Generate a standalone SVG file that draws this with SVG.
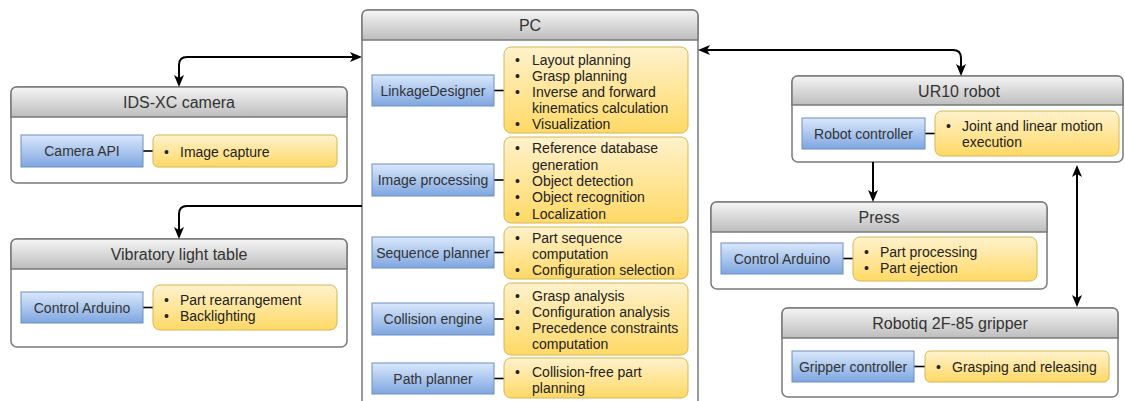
<svg xmlns="http://www.w3.org/2000/svg" width="1125" height="401" viewBox="0 0 1125 401">
<defs>
<linearGradient id="gHead" x1="0" y1="0" x2="0" y2="1"><stop offset="0" stop-color="#f5f5f5"/><stop offset="1" stop-color="#bdbdbd"/></linearGradient>
<linearGradient id="gBlue" x1="0" y1="0" x2="0" y2="1"><stop offset="0" stop-color="#dae8fc"/><stop offset="1" stop-color="#7ea6e0"/></linearGradient>
<linearGradient id="gYel" x1="0" y1="0" x2="0" y2="1"><stop offset="0" stop-color="#fff2cc"/><stop offset="1" stop-color="#ffd966"/></linearGradient>
<marker id="arr" viewBox="0 0 12 10" markerWidth="12" markerHeight="10" refX="9" refY="5" orient="auto-start-reverse" markerUnits="userSpaceOnUse"><path d="M0,0 L12,5 L0,10 L3,5 Z" fill="#000"/></marker>
<style>
.box{fill:#fff;stroke:#7a7a7a;stroke-width:1.5}
.head{fill:url(#gHead);stroke:#7a7a7a;stroke-width:1.5}
.blue{fill:url(#gBlue);stroke:#6c8ebf;stroke-width:1}
.yel{fill:url(#gYel);stroke:#d6b656;stroke-width:1}
.lnk{stroke:#000;stroke-width:1.6}
.ttl{font-family:"Liberation Sans",Arial,sans-serif;font-size:16px;fill:#333;text-anchor:middle}
.lbl{font-family:"Liberation Sans",Arial,sans-serif;font-size:14px;fill:#333;text-anchor:middle}
.txt{font-family:"Liberation Sans",Arial,sans-serif;font-size:14px;fill:#222}
.con{fill:none;stroke:#000;stroke-width:2}
</style>
</defs>

<g id="pc">
<rect class="box" x="362" y="10" width="336" height="400" rx="6"/>
<path class="head" d="M362,40 V16 Q362,10 368,10 H692 Q698,10 698,16 V40 Z"/>
<text class="ttl" x="530" y="31">PC</text>
<line class="lnk" x1="494" y1="90.5" x2="504" y2="90.5"/>
<line class="lnk" x1="494" y1="180" x2="504" y2="180"/>
<line class="lnk" x1="494" y1="252.5" x2="504" y2="252.5"/>
<line class="lnk" x1="494" y1="319" x2="504" y2="319"/>
<line class="lnk" x1="494" y1="378.5" x2="504" y2="378.5"/>
<rect class="blue" x="372" y="75" width="122" height="31"/>
<text class="lbl" x="433" y="95.5">LinkageDesigner</text>
<rect class="yel" x="504" y="47" width="184" height="86" rx="7"/>
<text class="txt"><tspan x="515" y="64.5">•</tspan><tspan x="532" y="64.5">Layout planning</tspan><tspan x="515" y="81">•</tspan><tspan x="532" y="81">Grasp planning</tspan><tspan x="515" y="97">•</tspan><tspan x="532" y="97">Inverse and forward</tspan><tspan x="532" y="113">kinematics calculation</tspan><tspan x="515" y="129">•</tspan><tspan x="532" y="129">Visualization</tspan></text>
<rect class="blue" x="372" y="164" width="122" height="32"/>
<text class="lbl" x="433" y="185">Image processing</text>
<rect class="yel" x="504" y="137" width="184" height="86" rx="7"/>
<text class="txt"><tspan x="515" y="153">•</tspan><tspan x="532" y="153">Reference database</tspan><tspan x="532" y="170">generation</tspan><tspan x="515" y="186">•</tspan><tspan x="532" y="186">Object detection</tspan><tspan x="515" y="202">•</tspan><tspan x="532" y="202">Object recognition</tspan><tspan x="515" y="219">•</tspan><tspan x="532" y="219">Localization</tspan></text>
<rect class="blue" x="372" y="237" width="122" height="31"/>
<text class="lbl" x="433" y="257.5">Sequence planner</text>
<rect class="yel" x="504" y="227" width="184" height="52" rx="7"/>
<text class="txt"><tspan x="515" y="243">•</tspan><tspan x="532" y="243">Part sequence</tspan><tspan x="532" y="259">computation</tspan><tspan x="515" y="275">•</tspan><tspan x="532" y="275">Configuration selection</tspan></text>
<rect class="blue" x="372" y="303" width="122" height="32"/>
<text class="lbl" x="433" y="324">Collision engine</text>
<rect class="yel" x="504" y="283" width="184" height="72" rx="7"/>
<text class="txt"><tspan x="515" y="301">•</tspan><tspan x="532" y="301">Grasp analysis</tspan><tspan x="515" y="317">•</tspan><tspan x="532" y="317">Configuration analysis</tspan><tspan x="515" y="333">•</tspan><tspan x="532" y="333">Precedence constraints</tspan><tspan x="532" y="349">computation</tspan></text>
<rect class="blue" x="372" y="363" width="122" height="31"/>
<text class="lbl" x="433" y="383.5">Path planner</text>
<rect class="yel" x="504" y="358" width="184" height="40" rx="7"/>
<text class="txt"><tspan x="515" y="377">•</tspan><tspan x="532" y="377">Collision-free part</tspan><tspan x="532" y="393">planning</tspan></text>
</g>

<g id="camera">
<rect class="box" x="11" y="87" width="336" height="96" rx="6"/>
<path class="head" d="M11,117 V93 Q11,87 17,87 H341 Q347,87 347,93 V117 Z"/>
<text class="ttl" x="179" y="108">IDS-XC camera</text>
<line class="lnk" x1="143" y1="151" x2="153" y2="151"/>
<rect class="blue" x="21" y="135" width="122" height="32"/>
<text class="lbl" x="82" y="156">Camera API</text>
<rect class="yel" x="153" y="135" width="184" height="32" rx="5"/>
<text class="txt"><tspan x="164" y="157">•</tspan><tspan x="180" y="157">Image capture</tspan></text>
</g>

<g id="vibratory-table">
<rect class="box" x="11" y="239" width="336" height="108" rx="6"/>
<path class="head" d="M11,269 V245 Q11,239 17,239 H341 Q347,239 347,245 V269 Z"/>
<text class="ttl" x="179" y="260">Vibratory light table</text>
<line class="lnk" x1="143" y1="307.5" x2="153" y2="307.5"/>
<rect class="blue" x="21" y="292" width="122" height="31"/>
<text class="lbl" x="82" y="312.5">Control Arduino</text>
<rect class="yel" x="153" y="285" width="184" height="45" rx="7"/>
<text class="txt"><tspan x="164" y="304.5">•</tspan><tspan x="180" y="304.5">Part rearrangement</tspan><tspan x="164" y="321">•</tspan><tspan x="180" y="321">Backlighting</tspan></text>
</g>

<g id="ur10">
<rect class="box" x="792" y="76" width="331" height="86" rx="6"/>
<path class="head" d="M792,105 V82 Q792,76 798,76 H1117 Q1123,76 1123,82 V105 Z"/>
<text class="ttl" x="959" y="97">UR10 robot</text>
<line class="lnk" x1="925" y1="133.5" x2="935" y2="133.5"/>
<rect class="blue" x="802" y="118" width="123" height="31"/>
<text class="lbl" x="863.5" y="138.5">Robot controller</text>
<rect class="yel" x="935" y="111" width="184" height="45" rx="7"/>
<text class="txt"><tspan x="946" y="131">•</tspan><tspan x="962" y="131">Joint and linear motion</tspan><tspan x="962" y="147">execution</tspan></text>
</g>

<g id="press">
<rect class="box" x="711" y="202" width="336" height="87" rx="6"/>
<path class="head" d="M711,232 V208 Q711,202 717,202 H1041 Q1047,202 1047,208 V232 Z"/>
<text class="ttl" x="879" y="223">Press</text>
<line class="lnk" x1="843" y1="258.5" x2="853" y2="258.5"/>
<rect class="blue" x="721" y="243" width="122" height="31"/>
<text class="lbl" x="782" y="263.5">Control Arduino</text>
<rect class="yel" x="853" y="237" width="184" height="44" rx="7"/>
<text class="txt"><tspan x="864" y="257">•</tspan><tspan x="880" y="257">Part processing</tspan><tspan x="864" y="273">•</tspan><tspan x="880" y="273">Part ejection</tspan></text>
</g>

<g id="gripper">
<rect class="box" x="782" y="308" width="336" height="89" rx="6"/>
<path class="head" d="M782,338 V314 Q782,308 788,308 H1112 Q1118,308 1118,314 V338 Z"/>
<text class="ttl" x="950" y="329">Robotiq 2F-85 gripper</text>
<line class="lnk" x1="914" y1="366.5" x2="925" y2="366.5"/>
<rect class="blue" x="792" y="351" width="122" height="31"/>
<text class="lbl" x="853" y="371.5">Gripper controller</text>
<rect class="yel" x="925" y="351" width="184" height="31" rx="5"/>
<text class="txt"><tspan x="936" y="371.5">•</tspan><tspan x="952" y="371.5">Grasping and releasing</tspan></text>
</g>

<g id="connectors">
<path class="con" d="M179,84 L179,65 Q179,57 187,57 L359,57" marker-start="url(#arr)" marker-end="url(#arr)"/>
<path class="con" d="M362,206 L187,206 Q179,206 179,214 L179,236" marker-end="url(#arr)"/>
<path class="con" d="M701,50 L953,50 Q961,50 961,58 L961,73" marker-start="url(#arr)" marker-end="url(#arr)"/>
<path class="con" d="M873,162 L873,199" marker-end="url(#arr)"/>
<path class="con" d="M1077,168 L1077,304" marker-start="url(#arr)" marker-end="url(#arr)"/>
</g>
</svg>
